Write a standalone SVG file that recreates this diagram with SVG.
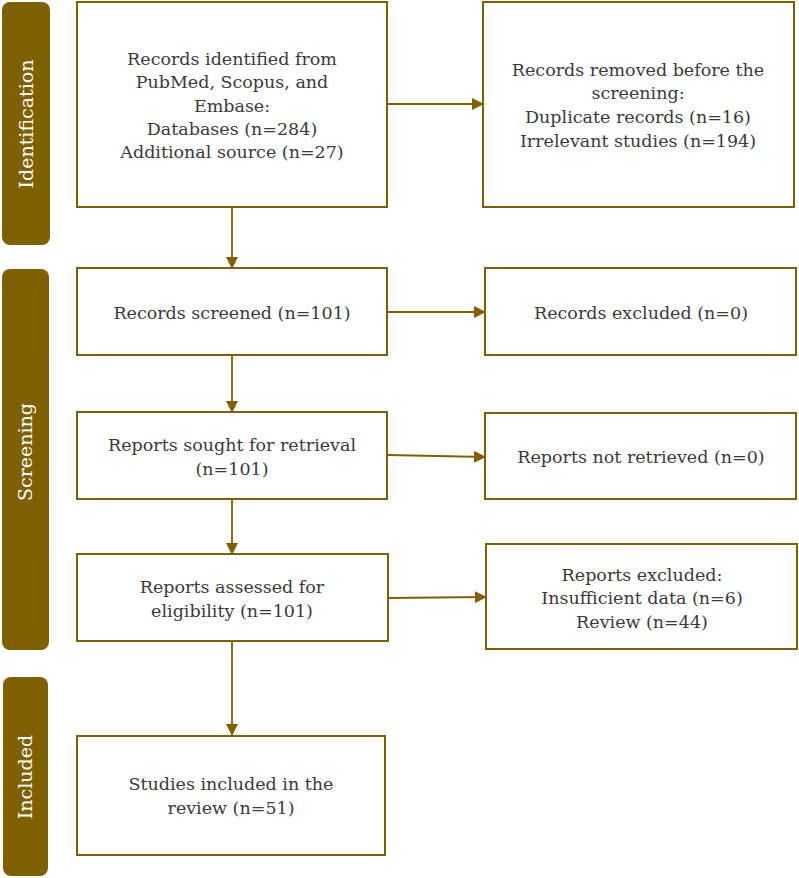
<svg xmlns="http://www.w3.org/2000/svg" width="799" height="878" viewBox="0 0 799 878">
<style>
.box{fill:#fff;stroke:#7F6000;stroke-width:2}
.side{fill:#7F6000}
.t{font-family:"DejaVu Serif","Liberation Serif",serif;font-size:17.5px;fill:#3a3a3a;text-anchor:middle}
.s{font-family:"DejaVu Serif","Liberation Serif",serif;font-size:19px;fill:#fff;text-anchor:middle}
.c{stroke:#7F6000;stroke-width:1.8;fill:none;marker-end:url(#ah)}
</style>
<defs>
<marker id="ah" markerWidth="12" markerHeight="12" refX="11" refY="6" orient="auto" markerUnits="userSpaceOnUse" viewBox="0 0 12 12">
<path d="M0,0 L12,6 L0,12 z" fill="#7F6000"/>
</marker>
</defs>
<g id="phase-identification"><rect class="side" x="2" y="2" width="48" height="243" rx="8"/><text class="s" transform="translate(33,124) rotate(-90)">Identification</text></g>
<g id="phase-screening"><rect class="side" x="2" y="269" width="47" height="381" rx="8"/><text class="s" transform="translate(32,452) rotate(-90)">Screening</text></g>
<g id="phase-included"><rect class="side" x="3" y="677" width="45" height="199" rx="8"/><text class="s" transform="translate(32,777) rotate(-90)">Included</text></g>

<g id="connectors">
<line class="c" x1="388" y1="104" x2="483" y2="104"/>
<line class="c" x1="232" y1="207" x2="232" y2="268"/>
<line class="c" x1="388" y1="312" x2="485" y2="312"/>
<line class="c" x1="232" y1="355" x2="232" y2="412"/>
<line class="c" x1="388" y1="455" x2="485" y2="457"/>
<line class="c" x1="232" y1="499" x2="232" y2="554"/>
<line class="c" x1="388" y1="598" x2="486" y2="597"/>
<line class="c" x1="232" y1="641" x2="232" y2="735"/>
</g>

<g id="identified"><rect class="box" x="77" y="2" width="310" height="205"/>
<text class="t" x="232" y="65">Records identified from</text>
<text class="t" x="232" y="88">PubMed, Scopus, and</text>
<text class="t" x="232" y="112">Embase:</text>
<text class="t" x="232" y="135">Databases (n=284)</text>
<text class="t" x="232" y="158">Additional source (n=27)</text></g>

<g id="removed"><rect class="box" x="483" y="2" width="311" height="205"/>
<text class="t" x="638" y="76">Records removed before the</text>
<text class="t" x="638" y="99">screening:</text>
<text class="t" x="638" y="123">Duplicate records (n=16)</text>
<text class="t" x="638" y="147">Irrelevant studies (n=194)</text></g>

<g id="screened"><rect class="box" x="77" y="268" width="310" height="87"/>
<text class="t" x="232" y="319">Records screened (n=101)</text></g>

<g id="excluded"><rect class="box" x="485" y="268" width="311" height="87"/>
<text class="t" x="641" y="319">Records excluded (n=0)</text></g>

<g id="sought"><rect class="box" x="77" y="412" width="310" height="87"/>
<text class="t" x="232" y="451">Reports sought for retrieval</text>
<text class="t" x="232" y="475">(n=101)</text></g>

<g id="notretrieved"><rect class="box" x="485" y="413" width="311" height="86"/>
<text class="t" x="641" y="463">Reports not retrieved (n=0)</text></g>

<g id="assessed"><rect class="box" x="77" y="554" width="311" height="87"/>
<text class="t" x="232" y="593">Reports assessed for</text>
<text class="t" x="232" y="617">eligibility (n=101)</text></g>

<g id="reportsexcluded"><rect class="box" x="486" y="544" width="311" height="105"/>
<text class="t" x="642" y="581">Reports excluded:</text>
<text class="t" x="642" y="604">Insufficient data (n=6)</text>
<text class="t" x="642" y="628">Review (n=44)</text></g>

<g id="included"><rect class="box" x="77" y="736" width="308" height="119"/>
<text class="t" x="231" y="790">Studies included in the</text>
<text class="t" x="231" y="814">review (n=51)</text></g>
</svg>
